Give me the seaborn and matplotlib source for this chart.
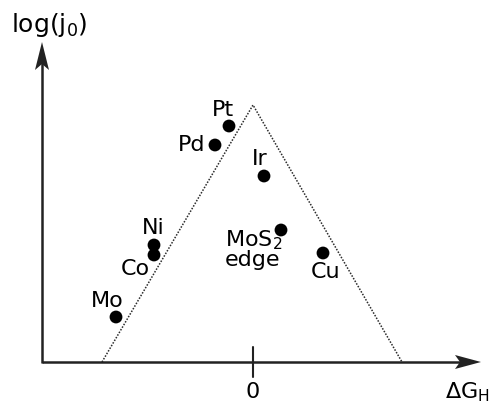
import matplotlib
matplotlib.use("Agg")
import matplotlib.pyplot as plt
from matplotlib.patches import Polygon
import seaborn as sns
import pandas as pd

# Exchange current vs. hydrogen adsorption free energy (schematic volcano)
metals = ["Pt", "Pd", "Ir", "MoS2", "Cu", "Ni", "Co", "Mo"]
labels = ["Pt", "Pd", "Ir", "MoS$_2$\nedge", "Cu", "Ni", "Co", "Mo"]
delta_g = [-24, -38, 11, 28, 70, -99, -99, -137]
log_j0 = [236, 217, 186, 132, 109, 117, 107, 45]

# Volcano envelope: left foot, apex, right foot
volcano_dg = [-151, 0, 149]
volcano_j = [0, 257, 0]

# Label offsets in pixels relative to each point
label_dx = [-6, -23, -4, -56, 3, -1, -19, -9]
label_dy = [16, 0, 17, -19, -19, 17, -14, 16]

sns.set_theme(style="white")
plt.rcParams["font.family"] = ["DejaVu Sans"]
plt.rcParams["mathtext.fontset"] = "dejavusans"
plt.rcParams["text.color"] = "black"

fig = plt.figure(figsize=(4.97, 4.03), dpi=100)
ax = fig.add_axes([0, 0, 1, 1])
ax.set_xlim(-253, 244)
ax.set_ylim(-41, 362)
ax.axis("off")

df = pd.DataFrame({"metal": metals, "dg": delta_g, "j": log_j0})
env = pd.DataFrame({"dg": volcano_dg, "j": volcano_j})

sns.lineplot(data=env, x="dg", y="j", sort=False, ax=ax, color="#2a2a2a",
             linewidth=1.1, linestyle=(0, (1, 1)))
sns.scatterplot(data=df, x="dg", y="j", ax=ax, color="black", s=85,
                edgecolor="none", zorder=5)

fs = 16
for name, text, x, y, dx, dy in zip(metals, labels, delta_g, log_j0, label_dx, label_dy):
    if name == "MoS2":
        ax.annotate(text, (x, y), xytext=(dx, dy), textcoords="offset pixels",
                    ha="left", va="center", multialignment="left",
                    linespacing=0.85, fontsize=fs)
    else:
        ax.annotate(text, (x, y), xytext=(dx, dy), textcoords="offset pixels",
                    ha="center", va="center", fontsize=fs)

# Axes drawn as arrows
axis_color = "#222222"
x0, y0 = -211, 0
x_tip, y_tip = 228, 320
ax.plot([x0, x_tip - 20], [y0, y0], color=axis_color, lw=1.8, solid_capstyle="butt")
ax.plot([x0, x0], [y0 - 1, y_tip - 20], color=axis_color, lw=1.8, solid_capstyle="butt")
ax.add_patch(Polygon([(x_tip, 0), (x_tip - 26, 7), (x_tip - 21, 0), (x_tip - 26, -7)],
                     closed=True, color=axis_color, lw=0))
ax.add_patch(Polygon([(x0, y_tip), (x0 - 7, y_tip - 28), (x0, y_tip - 22), (x0 + 7, y_tip - 28)],
                     closed=True, color=axis_color, lw=0))

# Tick at zero
ax.plot([0, 0], [-15, 15], color=axis_color, lw=1.5)
ax.text(0, -30, "0", ha="center", va="center", fontsize=fs)

ax.text(192, -36, r"$\Delta$G$_\mathrm{H}$", ha="left", va="baseline", fontsize=16)
ax.text(-204, 337, r"log(j$_0$)", ha="center", va="center", fontsize=18)

fig.savefig("out.png", dpi=100)
